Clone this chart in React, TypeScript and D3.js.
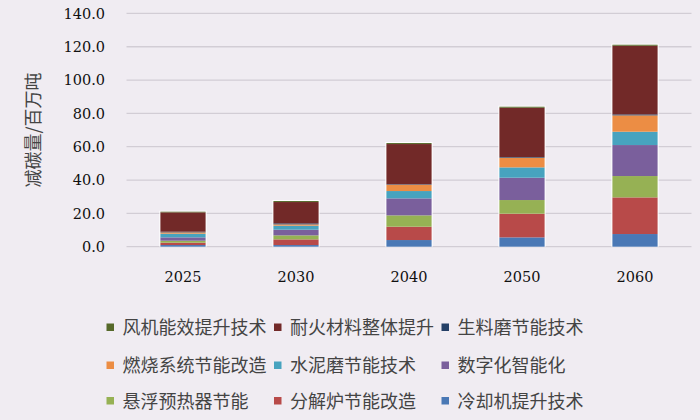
import React from "react";
import * as d3 from "d3";

const years = ["2025", "2030", "2040", "2050", "2060"];

// stack order bottom -> top
const seriesNames = [
  "冷却机提升技术",
  "分解炉节能改造",
  "悬浮预热器节能",
  "数字化智能化",
  "水泥磨节能技术",
  "燃烧系统节能改造",
  "生料磨节能技术",
  "耐火材料整体提升",
  "风机能效提升技术",
];
const seriesColors = [
  "#4a78b5",
  "#b84a49",
  "#96b154",
  "#7a5f9c",
  "#47a3bf",
  "#ec8d44",
  "#243f66",
  "#722928",
  "#56692a",
];

const cooler = [1.0, 1.0, 4.0, 5.6, 7.6];
const calciner = [1.4, 3.4, 8.0, 14.2, 22.0];
const preheater = [1.2, 2.4, 6.8, 8.2, 12.8];
const digital = [2.0, 3.4, 10.2, 13.4, 18.6];
const cementMill = [2.2, 2.4, 4.4, 6.2, 8.0];
const combustion = [0.8, 0.8, 3.8, 5.8, 9.8];
const rawMill = [0.4, 0.6, 0.3, 0.4, 0.6];
const refractory = [11.6, 12.8, 24.1, 29.6, 41.2];
const fan = [0.4, 0.6, 0.6, 0.6, 0.6];

const seriesValues = [cooler, calciner, preheater, digital, cementMill, combustion, rawMill, refractory, fan];

const yTicks = [0, 20, 40, 60, 80, 100, 120, 140];

// legend order (row-major)
const legendOrder = [8, 7, 6, 5, 4, 3, 2, 1, 0];

export default function App() {
  const W = 700;
  const H = 420;
  const left = 126.5;
  const right = 691.5;
  const top = 13.4;
  const bottom = 246.7;

  const x = d3.scaleBand<string>().domain(years).range([left, right]).paddingInner(0.6).paddingOuter(0.3);
  const y = d3.scaleLinear().domain([0, 140]).range([bottom, top]);

  const rows = years.map((yr, i) => {
    const r: Record<string, number | string> = { year: yr };
    seriesNames.forEach((s, k) => (r[s] = seriesValues[k][i]));
    return r;
  });
  const stack = d3.stack<Record<string, number | string>>().keys(seriesNames)(rows as any);

  const serif = "DejaVu Serif, serif";
  const cjk = "Noto Sans CJK SC, Noto Sans, sans-serif";

  return (
    <svg width={W} height={H} style={{ position: "absolute", left: 0, top: 0, background: "#f0ecf2" }}>
      <rect x={0} y={0} width={W} height={H} fill="#f0ecf2" />
      {yTicks.map((t) => (
        <g key={t}>
          <line x1={left} x2={right} y1={y(t)} y2={y(t)} stroke="#d2cdd5" strokeWidth={1.3} />
          <text x={105} y={y(t)} dy="0.36em" textAnchor="end" style={{ fontFamily: serif }} fontSize={14.5} fill="#111">
            {t.toFixed(1)}
          </text>
        </g>
      ))}
      {years.map((yr, i) => {
        const total = d3.sum(seriesValues, (s) => s[i]);
        return (
          <rect
            key={"bg" + yr}
            x={(x(yr) as number) - 1}
            y={y(total) - 1}
            width={x.bandwidth() + 2}
            height={bottom - y(total) + 1}
            fill="#ffffff"
          />
        );
      })}
      {stack.map((layer, k) => (
        <g key={layer.key} fill={seriesColors[k]}>
          {layer.map((d, i) => (
            <rect
              key={i}
              x={x(years[i]) as number}
              y={y(d[1])}
              width={x.bandwidth()}
              height={Math.max(0, y(d[0]) - y(d[1]))}
            />
          ))}
        </g>
      ))}
      {years.map((yr) => (
        <text
          key={"xl" + yr}
          x={(x(yr) as number) + x.bandwidth() / 2}
          y={281.5}
          textAnchor="middle"
          style={{ fontFamily: serif }}
          fontSize={14.5}
          fill="#111"
        >
          {yr}
        </text>
      ))}
      <text
        transform={`translate(40,130) rotate(-90)`}
        textAnchor="middle"
        style={{ fontFamily: cjk }}
        fontSize={18}
        fill="#444"
      >
        减碳量/百万吨
      </text>
      {legendOrder.map((si, j) => {
        const col = j % 3;
        const row = Math.floor(j / 3);
        const colX = [106.5, 274, 441.5][col];
        const rowY = [328, 366, 401.5][row];
        return (
          <g key={"lg" + si}>
            <rect x={colX} y={rowY - 4.5} width={7.5} height={7.5} fill={seriesColors[si]} />
            <text x={colX + 16} y={rowY} dy="0.35em" style={{ fontFamily: cjk }} fontSize={18} fill="#444">
              {seriesNames[si]}
            </text>
          </g>
        );
      })}
    </svg>
  );
}
